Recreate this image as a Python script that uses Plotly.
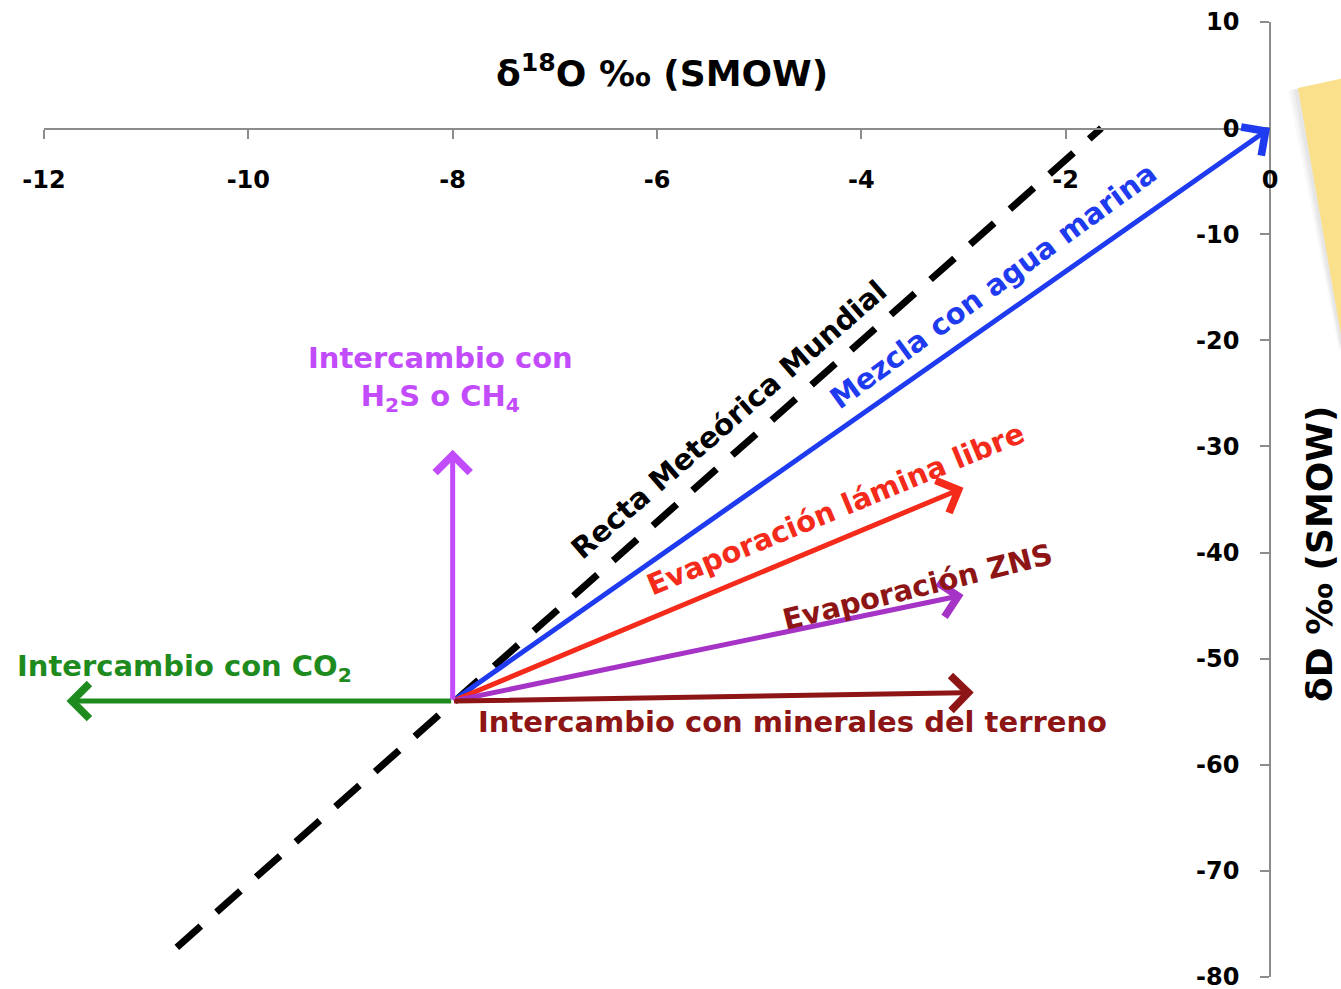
import plotly.graph_objects as go

# --- data (δ18O ‰, δD ‰) ---
origin = (-8.0, -54.0)

# Global Meteoric Water Line segment (dashed)
gmwl_x = [-10.7, -1.65]
gmwl_y = [-77.2, 0.0]

# Process arrows: end points starting from the origin
arrow_names = ["Mezcla", "Evaporación lámina libre", "Evaporación ZNS",
               "Minerales", "CO2", "H2S/CH4"]
arrow_end_x = [0.0, -3.0, -3.0, -2.9, -11.78, -8.0]
arrow_end_y = [0.0, -33.9, -44.0, -53.2, -54.0, -30.3]
arrow_colors = ["#1F3BEF", "#F42B1B", "#A533C6", "#8E1515", "#1E8B1E", "#C24CFB"]

x_ticks = [-12, -10, -8, -6, -4, -2, 0]
y_ticks = [10, 0, -10, -20, -30, -40, -50, -60, -70, -80]

W, H = 1341, 989
LABEL_FONT = "DejaVu Sans"
TEXT_SIZE = 29

fig = go.Figure()

fig.add_trace(go.Scatter(
    x=gmwl_x, y=gmwl_y, mode="lines",
    line=dict(color="black", width=7, dash="32px,21px"),
    hoverinfo="skip", showlegend=False,
))

annotations = []
for ex, ey, col in zip(arrow_end_x, arrow_end_y, arrow_colors):
    annotations.append(dict(
        x=ex, y=ey, xref="x", yref="y",
        ax=origin[0], ay=origin[1], axref="x", ayref="y",
        text="", showarrow=True, arrowhead=4, arrowsize=1.35,
        arrowwidth=5, arrowcolor=col, standoff=0, startstandoff=0,
    ))

def label(text, x, y, color, angle=0, size=TEXT_SIZE):
    annotations.append(dict(
        x=x, y=y, xref="x", yref="y", text=text, showarrow=False,
        textangle=angle, xanchor="center", yanchor="middle",
        font=dict(family=LABEL_FONT, size=size, color=color, weight="bold"),
    ))

label("Intercambio con<br>H<sub>2</sub>S o CH<sub>4</sub>", -8.12, -23.6, "#C24CFB")
label("Intercambio con CO<sub>2</sub>", -10.62, -50.9, "#1E8B1E")
label("Intercambio con minerales del terreno", -4.67, -56.0, "#8E1515")
label("Evaporación ZNS", -3.45, -43.2, "#8E1515", angle=-14)
label("Evaporación lámina libre", -4.25, -35.9, "#F42B1B", angle=-22.5)
label("Mezcla con agua marina", -2.71, -14.9, "#1F3BEF", angle=-36)
label("Recta Meteórica Mundial", -5.3, -27.5, "black", angle=-41)

# axis titles
annotations.append(dict(
    x=662 / W, y=1 - 71 / H, xref="paper", yref="paper",
    xanchor="center", yanchor="middle",
    text="δ<sup>18</sup>O ‰ (SMOW)", showarrow=False,
    font=dict(family=LABEL_FONT, size=36, color="black", weight="bold"),
))
annotations.append(dict(
    x=1319 / W, y=1 - 554 / H, xref="paper", yref="paper",
    xanchor="center", yanchor="middle",
    text="δD ‰ (SMOW)", showarrow=False, textangle=-90,
    font=dict(family=LABEL_FONT, size=36, color="black", weight="bold"),
))

# sticky-note shape at the right edge, with a soft shadow
def px_path(pts):
    return "M " + " L ".join(f"{x / W},{1 - y / H}" for x, y in pts) + " Z"

shapes = []
for off, op in [(10, 0.05), (7, 0.07), (4, 0.09)]:
    shapes.append(dict(
        type="path", xref="paper", yref="paper",
        path=px_path([(1298 - off, 88 + off * 0.3), (1345, 78), (1345, 340 + off),
                      (1341 - off * 0.2, 340 + off)]),
        fillcolor="#808080", opacity=op, line=dict(width=0), layer="below",
    ))
shapes.append(dict(
    type="path", xref="paper", yref="paper",
    path=px_path([(1298, 88), (1345, 78), (1345, 335), (1341, 335)]),
    fillcolor="#FBE08B", line=dict(width=0), layer="below",
))

tick_font = dict(family=LABEL_FONT, size=24, color="black", weight="bold")

fig.update_layout(
    width=W, height=H,
    margin=dict(l=0, r=0, t=0, b=0, autoexpand=False),
    paper_bgcolor="white", plot_bgcolor="white",
    showlegend=False,
    annotations=annotations,
    shapes=shapes,
    xaxis=dict(
        domain=[44 / W, 1270 / W], range=[-12, 0],
        anchor="free", position=1 - 129 / H, side="bottom",
        tickvals=x_ticks, ticktext=[str(v) for v in x_ticks],
        ticks="outside", ticklen=9, tickwidth=1.5, tickcolor="#8c8c8c",
        showline=True, linecolor="#8c8c8c", linewidth=1.5,
        showgrid=False, zeroline=False, ticklabelstandoff=20,
        ticklabeloverflow="allow", automargin=False, tickfont=tick_font,
    ),
    yaxis=dict(
        domain=[1 - 977 / H, 1 - 22 / H], range=[-80, 10],
        anchor="free", position=1270 / W, side="left",
        tickvals=y_ticks, ticktext=[str(v) for v in y_ticks],
        ticks="outside", ticklen=9, tickwidth=1.5, tickcolor="#8c8c8c",
        showline=True, linecolor="#8c8c8c", linewidth=1.5,
        showgrid=False, zeroline=False, ticklabelstandoff=16,
        ticklabeloverflow="allow", automargin=False, tickfont=tick_font,
    ),
)

fig.write_html("out.html")
